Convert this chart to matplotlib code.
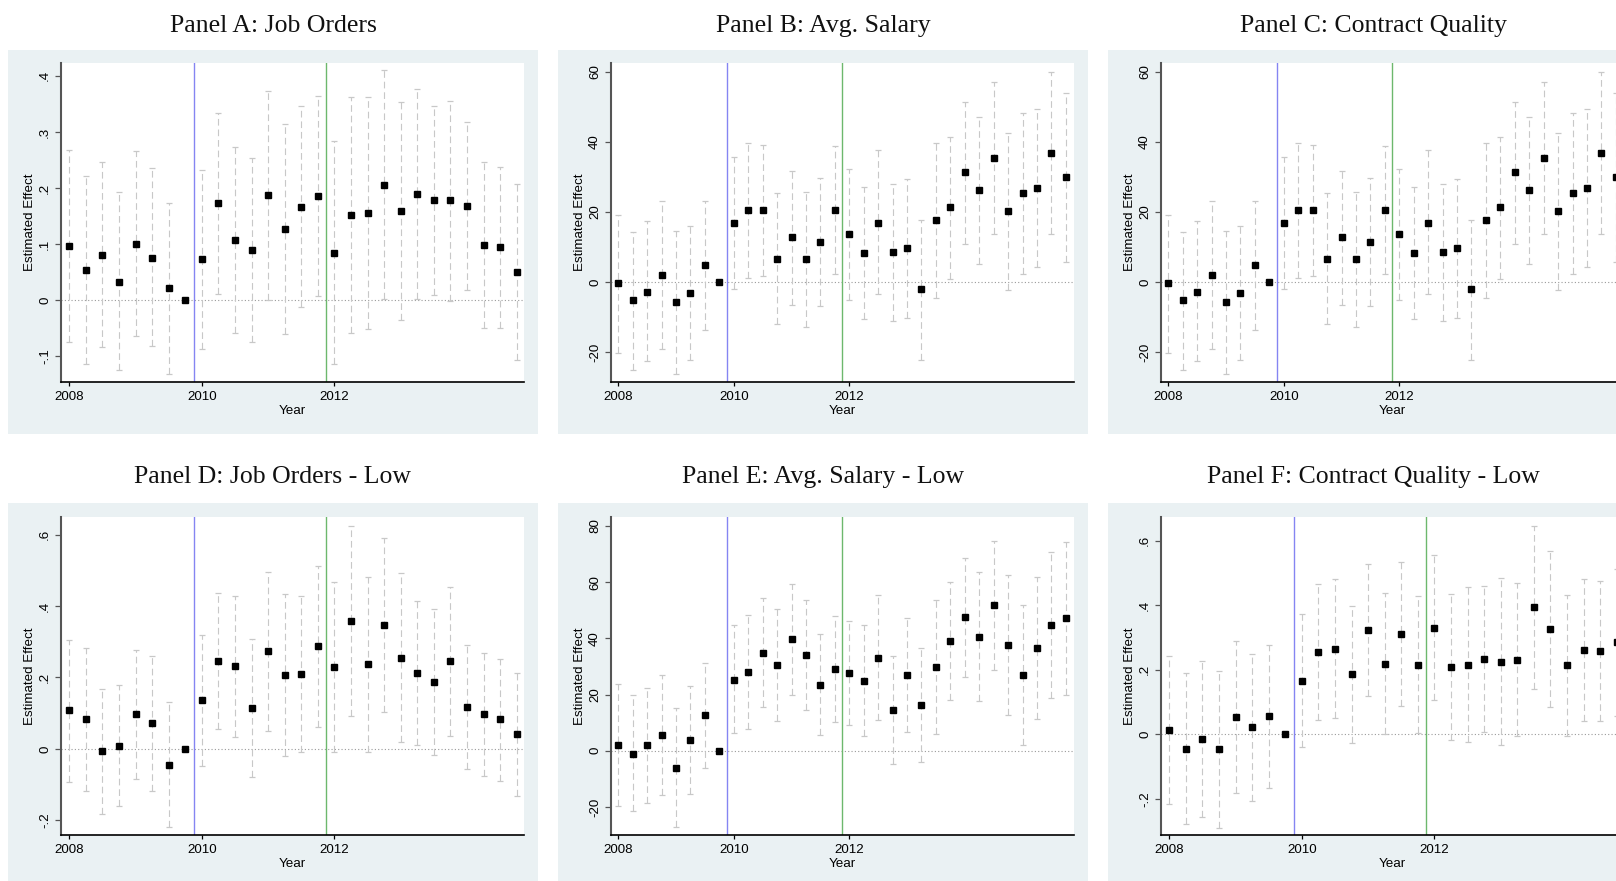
import numpy as np
import matplotlib.pyplot as plt
from matplotlib.patches import Rectangle

nan = np.nan

# quarterly periods (event-study leads/lags)
quarters_short = [f"{y}q{q}" for y in range(2008, 2015) for q in range(1, 5)]
quarters_long = [f"{y}q{q}" for y in range(2008, 2016) for q in range(1, 5)]

line_policy = 2009.875
line_second = 2011.875

# Panel A: Job Orders
coef_a = [0.096, 0.053, 0.080, 0.033, 0.101, 0.076, 0.021, 0.0, 0.073, 0.173, 0.107, 0.089, 0.187, 0.127,
          0.166, 0.186, 0.084, 0.152, 0.155, 0.205, 0.159, 0.189, 0.179, 0.179, 0.168, 0.098, 0.094, 0.050]
hi_a = [0.268, 0.221, 0.246, 0.193, 0.266, 0.235, 0.174, nan, 0.232, 0.334, 0.273, 0.253, 0.373, 0.315,
        0.346, 0.365, 0.284, 0.362, 0.362, 0.410, 0.353, 0.377, 0.346, 0.356, 0.318, 0.247, 0.238, 0.208]
lo_a = [-0.075, -0.114, -0.084, -0.124, -0.064, -0.081, -0.131, nan, -0.087, 0.011, -0.058, -0.075, 0.001, -0.060,
        -0.013, 0.008, -0.114, -0.059, -0.051, 0.002, -0.036, 0.002, 0.010, -0.001, 0.018, -0.050, -0.050, -0.107]

# Panel B: Avg. Salary
coef_b = [-0.4, -5.2, -2.7, 1.9, -5.8, -3.2, 4.8, 0.0, 17.0, 20.5, 20.5, 6.5, 12.8, 6.5, 11.3, 20.5,
          13.6, 8.2, 17.0, 8.5, 9.6, -2.1, 17.6, 21.3, 31.3, 26.2, 35.3, 20.2, 25.3, 26.8, 36.8, 29.9]
hi_b = [19.2, 14.4, 17.5, 23.2, 14.6, 16.1, 23.2, nan, 35.8, 39.7, 39.2, 25.3, 31.8, 25.7, 29.8, 38.7,
        32.2, 27.1, 37.7, 27.9, 29.4, 17.8, 39.7, 41.5, 51.5, 47.2, 57.1, 42.4, 48.3, 49.5, 60.0, 53.8]
lo_b = [-20.1, -25.0, -22.6, -19.0, -26.1, -22.3, -13.8, nan, -1.9, 1.2, 1.6, -11.9, -6.4, -12.7, -6.9, 2.4,
        -5.0, -10.5, -3.4, -11.0, -10.3, -22.2, -4.5, 1.0, 10.9, 5.2, 13.6, -2.2, 2.4, 4.4, 13.8, 5.8]

# Panel C: Contract Quality (same estimates as shown in panel B)
coef_c = list(coef_b)
hi_c = list(hi_b)
lo_c = list(lo_b)

# Panel D: Job Orders - Low
coef_d = [0.108, 0.083, -0.007, 0.007, 0.097, 0.072, -0.046, 0.0, 0.136, 0.245, 0.231, 0.114, 0.273, 0.206,
          0.209, 0.287, 0.228, 0.357, 0.237, 0.346, 0.254, 0.212, 0.186, 0.245, 0.117, 0.097, 0.083, 0.041]
hi_d = [0.306, 0.282, 0.169, 0.180, 0.278, 0.259, 0.130, nan, 0.318, 0.436, 0.428, 0.308, 0.495, 0.434,
        0.428, 0.512, 0.468, 0.625, 0.482, 0.590, 0.491, 0.414, 0.392, 0.453, 0.292, 0.269, 0.252, 0.213]
lo_d = [-0.092, -0.117, -0.183, -0.160, -0.084, -0.117, -0.220, nan, -0.047, 0.057, 0.034, -0.080, 0.051, -0.021,
        -0.010, 0.062, -0.009, 0.092, -0.008, 0.102, 0.020, 0.010, -0.017, 0.037, -0.056, -0.075, -0.089, -0.131]

# Panel E: Avg. Salary - Low
coef_e = [2.0, -1.2, 2.0, 5.6, -6.2, 3.8, 12.7, 0.0, 25.1, 28.0, 34.7, 30.5, 39.7, 34.0, 23.3, 29.0,
          27.6, 24.8, 32.9, 14.5, 26.9, 16.2, 29.7, 39.0, 47.5, 40.4, 51.8, 37.6, 26.9, 36.5, 44.7, 47.2]
hi_e = [23.6, 19.7, 22.4, 27.0, 15.2, 23.1, 31.3, nan, 44.6, 48.4, 54.4, 50.3, 59.5, 53.8, 41.4, 47.8,
        46.1, 44.7, 55.3, 33.8, 47.4, 36.7, 53.5, 60.2, 68.7, 63.5, 74.7, 62.6, 52.0, 61.7, 70.6, 74.3]
lo_e = [-19.6, -21.6, -18.5, -15.9, -27.1, -15.5, -6.2, nan, 6.2, 7.6, 15.4, 10.7, 20.0, 14.5, 5.5, 10.1,
        9.2, 5.1, 10.8, -4.7, 6.5, -4.1, 6.0, 17.9, 26.4, 17.8, 28.7, 12.7, 1.9, 11.3, 18.7, 20.0]

# Panel F: Contract Quality - Low
coef_f = [0.013, -0.045, -0.014, -0.045, 0.054, 0.023, 0.057, 0.0, 0.165, 0.255, 0.264, 0.187, 0.323, 0.218,
          0.310, 0.214, 0.329, 0.208, 0.214, 0.233, 0.224, 0.230, 0.394, 0.326, 0.214, 0.261, 0.258, 0.286]
hi_f = [0.243, 0.190, 0.227, 0.198, 0.289, 0.249, 0.278, nan, 0.373, 0.465, 0.480, 0.399, 0.529, 0.437,
        0.534, 0.428, 0.554, 0.434, 0.457, 0.460, 0.485, 0.470, 0.646, 0.568, 0.431, 0.481, 0.476, 0.512]
lo_f = [-0.216, -0.277, -0.256, -0.288, -0.181, -0.205, -0.166, nan, -0.040, 0.044, 0.051, -0.027, 0.119, 0.000,
        0.087, 0.004, 0.106, -0.016, -0.024, 0.009, -0.034, -0.006, 0.141, 0.086, -0.006, 0.041, 0.041, 0.057]

titles = ["Panel A: Job Orders", "Panel B: Avg. Salary", "Panel C: Contract Quality",
          "Panel D: Job Orders - Low", "Panel E: Avg. Salary - Low", "Panel F: Contract Quality - Low"]
yticks_share = [-0.1, 0, 0.1, 0.2, 0.3, 0.4]
yticks_salary = [-20, 0, 20, 40, 60]
yticks_low_share = [-0.2, 0, 0.2, 0.4, 0.6]
yticks_low_salary = [-20, 0, 20, 40, 60, 80]
xticks = [2008, 2010, 2012]


def to_time(labels):
    return np.array([int(s[:4]) + (int(s[-1]) - 1) / 4 for s in labels])


def stata_fmt(v):
    if v == 0:
        return "0"
    if abs(v) < 1:
        s = f"{v:g}"
        return s.replace("0.", ".")
    return f"{v:g}"


panels = [
    (quarters_short, coef_a, lo_a, hi_a, yticks_share, (-0.146, 0.423)),
    (quarters_long, coef_b, lo_b, hi_b, yticks_salary, (-28.5, 62.5)),
    (quarters_long, coef_c, lo_c, hi_c, yticks_salary, (-28.5, 62.5)),
    (quarters_short, coef_d, lo_d, hi_d, yticks_low_share, (-0.241, 0.649)),
    (quarters_long, coef_e, lo_e, hi_e, yticks_low_salary, (-30.0, 83.2)),
    (quarters_short, coef_f, lo_f, hi_f, yticks_low_share, (-0.311, 0.673)),
]

W, H = 1616, 881
fig = plt.figure(figsize=(W / 100, H / 100), dpi=100)
fig.patch.set_facecolor("white")

bg = "#eaf1f3"
plot_left = [61, 611, 1161]
plot_w = 463
plot_top = [63, 517]
plot_h = [319, 318]
box_left = [8, 558, 1108]
box_w = 530
box_top = [50, 503]
box_h = 384
title_base = [32, 483]

sans = "Liberation Sans"
fs = 9.6

for i, (qs, coef, lo, hi, yt, ylim) in enumerate(panels):
    r, c = divmod(i, 3)
    fig.patches.append(Rectangle((box_left[c] / W, 1 - (box_top[r] + box_h) / H), box_w / W, box_h / H,
                                 transform=fig.transFigure, facecolor=bg, edgecolor="none", zorder=-5))
    fig.text((box_left[c] + box_w / 2) / W, 1 - title_base[r] / H, titles[i], ha="center", va="baseline",
             fontsize=18.5, family="Liberation Serif", color="#111111")

    ax = fig.add_axes([plot_left[c] / W, 1 - (plot_top[r] + plot_h[r]) / H, plot_w / W, plot_h[r] / H])
    ax.set_zorder(1)
    ax.set_facecolor("white")
    t = to_time(qs)
    coef = np.array(coef)
    lo = np.array(lo)
    hi = np.array(hi)

    ax.axhline(0, color="#9a9a9a", lw=0.8, ls=(0, (1, 2)), zorder=1)
    ax.axvline(line_policy, color="#8585f2", lw=1.0, zorder=2)
    ax.axvline(line_second, color="#6db86d", lw=1.0, zorder=2)
    ax.vlines(t, lo, hi, colors="#c8c8c8", lw=0.8, linestyles=(0, (6, 3.5)), zorder=3)
    ax.plot(t, hi, ls="none", marker="_", ms=4.5, mew=0.9, color="#c8c8c8", zorder=3)
    ax.plot(t, lo, ls="none", marker="_", ms=4.5, mew=0.9, color="#c8c8c8", zorder=3)
    ax.plot(t, coef, ls="none", marker="s", ms=4.9, color="black", mec="black", zorder=4)

    ax.set_xlim(2007.875, 2014.86 if len(qs) == 28 else 2015.89)
    ax.set_ylim(*ylim)
    ax.set_xticks(xticks)
    ax.set_xticklabels([str(x) for x in xticks], family=sans, fontsize=fs)
    ax.set_yticks(yt)
    ax.set_yticklabels([stata_fmt(v) for v in yt], family=sans, fontsize=fs, rotation=90, va="center")

    for s in ["top", "right"]:
        ax.spines[s].set_visible(False)
    ax.spines["left"].set_color("#555555")
    ax.spines["left"].set_linewidth(1.5)
    ax.spines["bottom"].set_color("black")
    ax.spines["bottom"].set_linewidth(1.2)
    ax.tick_params(axis="y", length=4.3, width=0.9, color="#555555", pad=2.8)
    ax.tick_params(axis="x", length=3, width=0.9, color="black", pad=3.2)

    ax.set_ylabel("Estimated Effect", family=sans, fontsize=fs, labelpad=2.5)
    ax.set_xlabel("Year", family=sans, fontsize=fs, labelpad=1.5)

fig.savefig("out.png", dpi=100, facecolor="white")
